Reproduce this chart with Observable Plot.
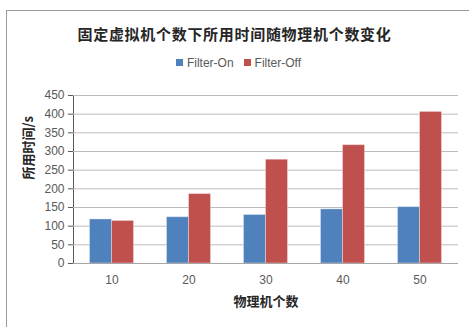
<!DOCTYPE html>
<html>
<head>
<meta charset="utf-8">
<script src="https://cdn.jsdelivr.net/npm/d3@7"></script>
<script src="https://cdn.jsdelivr.net/npm/@observablehq/plot@0.6"></script>
<style>
  html, body { margin: 0; padding: 0; background: #fff; }
  #wrap { position: relative; width: 469px; height: 327px; overflow: hidden; font-family: "Liberation Sans", "Noto Sans CJK SC", sans-serif; }
  #frame { position: absolute; left: 6px; top: 10px; width: 470px; height: 330px; border-left: 1px solid #9a9a9a; border-top: 1px solid #9a9a9a; }
  #title { position: absolute; left: 0; width: 469px; top: 23px; text-align: center; font-family: "Noto Sans CJK SC", sans-serif; font-weight: bold; font-size: 15px; letter-spacing: 0.7px; color: #262626; line-height: 22px; }
  #legend { position: absolute; left: 4px; width: 469px; top: 56px; text-align: center; font-size: 12px; color: #595959; line-height: 14px; }
  #legend span.item { margin: 0 5px; }
  #legend span.sw { display: inline-block; width: 7px; height: 7px; margin-right: 4px; vertical-align: 1px; }
  #chart { position: absolute; left: 0; top: 80px; }
</style>
</head>
<body>
<div id="wrap">
  <div id="frame"></div>
  <div id="title"></div>
  <div id="legend"></div>
  <div id="chart"></div>
</div>
<script>
const titleText = "固定虚拟机个数下所用时间随物理机个数变化";
const categories = ["10", "20", "30", "40", "50"];
const seriesNames = ["Filter-On", "Filter-Off"];
const filterOn = [118, 124, 130, 145, 151];
const filterOff = [114, 186, 278, 317, 406];
const yTicks = [0, 50, 100, 150, 200, 250, 300, 350, 400, 450];
const xLabel = "物理机个数";
const yLabel = "所用时间/s";
const colors = ["#4f81bd", "#c0504d"];

document.getElementById("title").textContent = titleText;
const legend = document.getElementById("legend");
seriesNames.forEach((name, i) => {
  const item = document.createElement("span");
  item.className = "item";
  const sw = document.createElement("span");
  sw.className = "sw";
  sw.style.background = colors[i];
  item.appendChild(sw);
  item.appendChild(document.createTextNode(name));
  legend.appendChild(item);
});

const onRows = categories.map((c, i) => ({cat: c, value: filterOn[i]}));
const offRows = categories.map((c, i) => ({cat: c, value: filterOff[i]}));

const width = 469, marginLeft = 73, marginRight = 11;
const step = (width - marginLeft - marginRight) / categories.length;
const gap = step * 0.214, barW = step * 0.286;

const chart = Plot.plot({
  width: width,
  height: 247,
  marginLeft: marginLeft,
  marginRight: marginRight,
  marginTop: 15,
  marginBottom: 64,
  style: { fontFamily: "Liberation Sans, sans-serif", fontSize: "12px", color: "#595959", background: "transparent" },
  x: { domain: categories, padding: 0, label: null, tickSize: 0, tickPadding: 12 },
  y: { domain: [0, 450], ticks: yTicks, label: null, tickSize: 5, tickPadding: 4, line: true },
  marks: [
    Plot.ruleY(yTicks, { stroke: "#bcbcbc", strokeWidth: 1 }),
    Plot.barY(onRows, { x: "cat", y: "value", fill: colors[0], insetLeft: gap, insetRight: step - gap - barW, stroke: "#ffffff", strokeOpacity: 0.35 }),
    Plot.barY(offRows, { x: "cat", y: "value", fill: colors[1], insetLeft: gap + barW, insetRight: gap, stroke: "#ffffff", strokeOpacity: 0.35 }),
    Plot.ruleY([0], { stroke: "#a6a6a6" }),
    Plot.text([yLabel], { frameAnchor: "left", dx: -45, rotate: -90, fontWeight: "bold", fontSize: 13, fill: "#262626", fontFamily: "Noto Sans CJK SC, sans-serif" }),
    Plot.text([xLabel], { frameAnchor: "bottom", dy: 42, fontWeight: "bold", fontSize: 13, fill: "#262626", fontFamily: "Noto Sans CJK SC, sans-serif" })
  ]
});
document.getElementById("chart").appendChild(chart);
</script>
</body>
</html>
